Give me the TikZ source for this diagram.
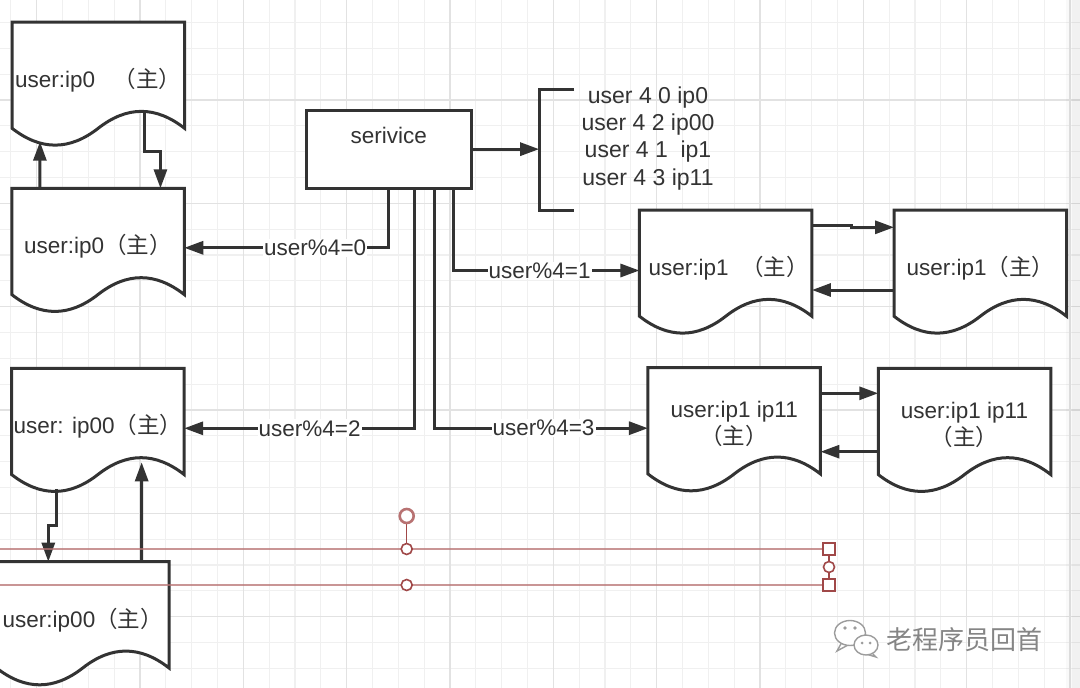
\documentclass[tikz,border=0pt]{standalone}
\usepackage{fontspec}
\setmainfont{Liberation Sans}
\newfontfamily\cjk{Noto Sans CJK SC}
\usetikzlibrary{arrows.meta,calc}
\pgfdeclarelayer{gridl}
\pgfdeclarelayer{bg}
\pgfsetlayers{gridl,bg,main}
\definecolor{ink}{HTML}{333333}
\definecolor{gridminor}{HTML}{F0F0F0}
\definecolor{gridmajor}{HTML}{E2E2E2}
\definecolor{selred}{HTML}{A04848}
\definecolor{sellight}{HTML}{B87272}
\definecolor{wmgray}{HTML}{858585}
\definecolor{wmline}{HTML}{9C9C9C}
\newcommand\docoutline[1]{%
  \begin{pgfonlayer}{bg}
  \begin{scope}[shift={(#1.north west)},x=172.5pt,y=-125pt]
    \draw[shapeline] (0,0) -- (1,0) -- (1,0.85)
      .. controls (0.8333,0.67) and (0.6667,0.67) .. (0.5,0.85)
      .. controls (0.3333,1.03) and (0.1667,1.03) .. (0,0.85) -- cycle;
  \end{scope}
  \end{pgfonlayer}}
\newcommand\twolines[2]{\raisebox{-1pt}[0pt][0pt]{\begin{tabular}{@{}c@{}}#1\\#2\end{tabular}}}
\begin{document}
\begin{tikzpicture}[x=1pt,y=-1pt,
  shapeline/.style={draw=ink, line width=3pt, fill=white, line join=miter},
  docbase/.style={minimum width=172.5pt, minimum height=125pt, inner sep=0pt, outer sep=0pt,
    text=ink, font=\fontsize{22.5}{26.7}\selectfont},
  doc/.style={docbase, text height=19pt, text depth=13pt},
  doctwo/.style={docbase},
  arr/.style={draw=ink, line width=3pt, -{Triangle[length=19pt,width=13pt]}},
  lbl/.style={fill=white, inner sep=1pt, text=ink, font=\fontsize{22.5}{27}\selectfont},
  selline/.style={draw=sellight, opacity=0.75, line width=1.6pt},
  selmark/.style={draw=selred, line width=1.6pt, fill=white},
]
\useasboundingbox (0,0) rectangle (1080,688);

% grid
\begin{pgfonlayer}{gridl}
  \fill[white] (0,0) rectangle (1080,688);
  \foreach \i in {0,...,41} {\draw[gridminor, line width=1.2pt] ({10.833+25.8333*\i},0) -- ++(0,688);}
  \foreach \i in {1,...,26} {\draw[gridminor, line width=1.2pt] (0,{-3.333+25.8333*\i}) -- ++(1080,0);}
  \foreach \i in {0,...,10} {\draw[gridmajor, line width=1.4pt] ({36.667+103.333*\i},0) -- ++(0,688);}
  \foreach \i in {1,...,6} {\draw[gridmajor, line width=1.4pt] (0,{-3.333+103.333*\i}) -- ++(1080,0);}
  \fill[black, opacity=0.025] (1066,0) rectangle (1080,688);
  \fill[black, opacity=0.03] (1072,0) rectangle (1080,688);
\end{pgfonlayer}

% document shapes
\node[doc] (A) at (98.25,84.5) {user:ip0\ \ \ {\cjk （主）}};
\node[doc] (B) at (98,250.8) {user:ip0{\cjk （主）}};
\node[doc] (C) at (97.9,430.8) {user: ip00{\cjk （主）}};
\node[doc] (H) at (82.75,624.2) {user:ip00{\cjk （主）}};
\node[doc] (D) at (725.7,272.5) {\hspace*{6pt}user:ip1\ \ {\cjk （主）}};
\node[doc] (E) at (980.3,272.5) {user:ip1{\cjk （主）}};
\node[doctwo] (F) at (734.2,430.2) {\twolines{user:ip1 ip11}{\cjk （主）}};
\node[doctwo] (G) at (964.5,430.8) {\twolines{user:ip1 ip11}{\cjk （主）}};
\docoutline{A}\docoutline{B}\docoutline{C}\docoutline{H}
\docoutline{D}\docoutline{E}\docoutline{F}\docoutline{G}

% service
\node[draw=ink, line width=3pt, fill=white, minimum width=165.7pt, minimum height=78.3pt,
  inner sep=0pt, outer sep=0pt, text height=10pt, text depth=22pt, text=ink,
  font=\fontsize{22.5}{27}\selectfont] (S) at (388.85,149.15) {serivice};

% bracket and list
\node[minimum width=35pt, minimum height=120.7pt, inner sep=0pt, outer sep=0pt] (Br) at (556.65,149.65) {};
\draw[ink, line width=3pt] (Br.north east) -- (Br.north west) -- (Br.south west) -- (Br.south east);
\node[text=ink, align=center, font=\fontsize{23}{27.4}\selectfont, inner sep=0pt] (L) at (648,138.3)
  {user 4 0 ip0\\user 4 2 ip00\\user 4 1\ \ ip1\\user 4 3 ip11};
\draw[arr] (S.east) -- (S.east -| Br.west);

% routing edges
\draw[arr] (S.south) |- node[lbl,pos=0.68]{user\%4=0} ($(B.east)+(0,-3)$);
\draw[arr] ($(S.south)+(26,0)$) |- node[lbl,pos=0.728]{user\%4=2} ($(C.east)+(0,-2.5)$);
\draw[arr] ($(S.south)+(46,0)$) |- node[lbl,pos=0.755]{user\%4=3} ($(F.west)+(0,-2)$);
\draw[arr] ($(S.south)+(65,0)$) |- node[lbl,pos=0.731]{user\%4=1} ($(D.west)+(0,-2)$);

% replication edges
\draw[arr] ($(B.north west)+(28,0)$) -- ($(A.south west)+(28,-5.3)$);
\draw[arr] ($(A.south west)+(132,-34)$) -- ++(0,38.7) -| ($(B.north west)+(148.7,0)$);
\draw[arr] ($(C.south west)+(45,-4)$) -- ++(0,35.7) -| ($(H.north west)+(51.8,0)$);
\draw[arr] ($(H.north west)+(145.2,0)$) -- ($(C.south west)+(130,-31)$);
\draw[arr] ($(D.north east)+(0,15)$) -- ++(39.7,0) |- ($(E.north west)+(0,17.3)$);
\draw[arr] ($(E.north west)+(0,80)$) -- ($(D.north east)+(0,80)$);
\draw[arr] ($(F.north east)+(0,25.6)$) -- ($(G.north west)+(0,25)$);
\draw[arr] ($(G.north west)+(0,83.4)$) -- ($(F.north east)+(0,84)$);

% selection handles
\draw[selline] (0,549) -- (823,549);
\draw[selline] (0,585) -- (823,585);
\draw[draw=selred, line width=1.5pt] (406.7,523) -- (406.7,544);
\draw[draw=sellight, line width=2.6pt, fill=white] (406.7,516) circle (7pt);
\draw[selmark] (406.7,549) circle (5.5pt);
\draw[selmark] (406.7,585) circle (5.5pt);
\draw[draw=selred, line width=1.5pt] (829,555) -- (829,579);
\draw[selmark] (829,567) circle (5.5pt);
\draw[selmark, line width=1.8pt] (823,543) rectangle (835,555);
\draw[selmark, line width=1.8pt] (823,579) rectangle (835,591);

% watermark
\begin{scope}[draw=wmline, line width=1.4pt]
  \filldraw[fill=white] (842,642) -- (837,651) -- (848,645) -- cycle;
  \filldraw[fill=white] (850,633) ellipse (15.5pt and 12.5pt);
  \fill[wmline] (845,628) circle (1.8pt) (855,628) circle (1.8pt);
  \filldraw[fill=white] (871,652) -- (876,657) -- (866,654) -- cycle;
  \filldraw[fill=white] (866,645) ellipse (12pt and 10pt);
  \fill[wmline] (862,643) circle (1.5pt) (870,643) circle (1.5pt);
\end{scope}
\node[text=wmgray, font={\cjk\fontsize{26}{26}\selectfont}, inner sep=0pt] (W) at (964,640) {老程序员回首};
\end{tikzpicture}
\end{document}
